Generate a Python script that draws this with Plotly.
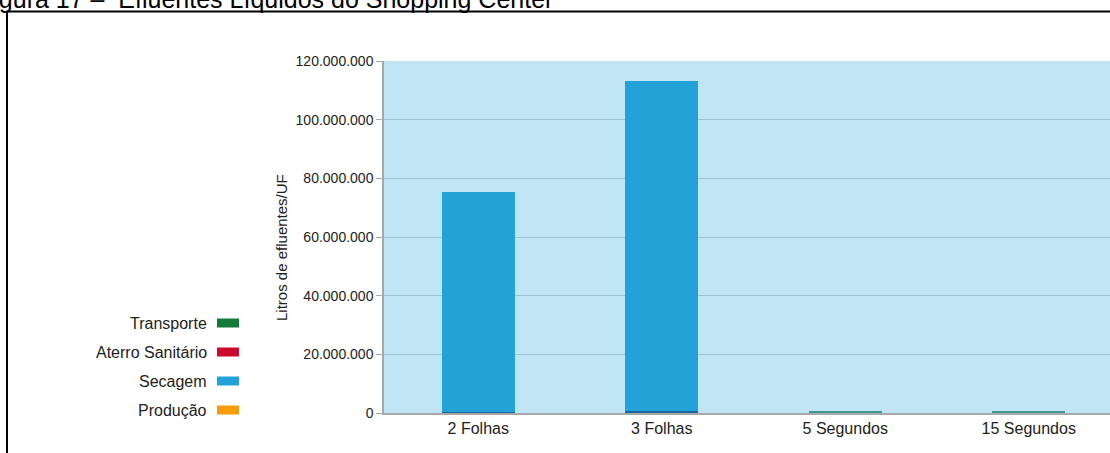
import plotly.graph_objects as go

# Categories and stacked series (litres of effluent per functional unit)
categorias = ["2 Folhas", "3 Folhas", "5 Segundos", "15 Segundos"]
producao = [450000, 600000, 0, 0]
secagem = [74900000, 112500000, 0, 0]
aterro = [0, 0, 0, 0]
transporte = [0, 0, 450000, 450000]

serie_nomes = ["Transporte", "Aterro Sanitário", "Secagem", "Produção"]
serie_cores = ["#137a3c", "#cc0a2f", "#22a2d6", "#f59d0c"]

y_ticks = [0, 20000000, 40000000, 60000000, 80000000, 100000000, 120000000]
y_tick_text = ["0", "20.000.000", "40.000.000", "60.000.000", "80.000.000",
               "100.000.000", "120.000.000"]

titulo = "Figura 17 \u2013  Efluentes Líquidos do Shopping Center"
y_titulo = "Litros de efluentes/UF"

FONTE = "Arial, Liberation Sans, sans-serif"

W, H = 1110, 453
L, T, B = 384, 61, 40
PW, PH = W - L, H - T - B
BANDA = 183.5  # pixels per category band


def px(x):
    return (x - L) / PW


def py(y):
    return (H - B - y) / PH


fig = go.Figure()
fig.add_bar(x=categorias, y=producao, name="Produção", marker_color="#1a66a3",
            marker_line_width=0, width=0.4, showlegend=False)
fig.add_bar(x=categorias, y=secagem, name="Secagem", marker_color=serie_cores[2],
            marker_line_width=0, width=0.4, showlegend=False)
fig.add_bar(x=categorias, y=aterro, name="Aterro Sanitário", marker_color=serie_cores[1],
            marker_line_width=0, width=0.4, showlegend=False)
fig.add_bar(x=categorias, y=transporte, name="Transporte", marker_color="#3f9a8e",
            marker_line_width=0, width=0.4, showlegend=False)

shapes = []
annotations = []

# Outer frame
shapes.append(dict(type="rect", xref="paper", yref="paper",
                   x0=px(7), x1=px(1125), y0=py(470), y1=py(11.5),
                   line=dict(color="#000000", width=2), fillcolor="rgba(0,0,0,0)",
                   layer="above"))

# Manual legend: right-aligned labels with swatches on the right
leg_y = [323, 352, 381, 410]
for nome, cor, yy in zip(serie_nomes, serie_cores, leg_y):
    annotations.append(dict(xref="paper", yref="paper", x=px(209), y=py(yy),
                            xanchor="right", yanchor="middle", showarrow=False,
                            text=nome, font=dict(family=FONTE, size=16, color="#222222")))
    shapes.append(dict(type="rect", xref="paper", yref="paper",
                       x0=px(217), x1=px(239), y0=py(yy + 4.5), y1=py(yy - 4.5),
                       line=dict(width=0), fillcolor=cor))

# Y-axis title
annotations.append(dict(xref="paper", yref="paper", x=px(281), y=py(248),
                        xanchor="center", yanchor="middle", showarrow=False,
                        textangle=-90, text=y_titulo,
                        font=dict(family=FONTE, size=15, color="#222222")))

# Caption above the frame
annotations.append(dict(xref="paper", yref="paper", x=px(-24), y=py(-1),
                        xanchor="left", yanchor="middle", showarrow=False,
                        text=titulo, font=dict(family=FONTE, size=25, color="#000000")))

x0 = -0.5 - 2.5 / BANDA
fig.update_layout(
    width=W, height=H,
    margin=dict(l=L, r=0, t=T, b=B, pad=0),
    barmode="stack",
    plot_bgcolor="#c0e5f5",
    paper_bgcolor="#ffffff",
    shapes=shapes,
    annotations=annotations,
    showlegend=False,
    xaxis=dict(range=[x0, x0 + PW / BANDA], showgrid=False, showline=True,
               linecolor="#a8a8a8", linewidth=1.5, ticks="", fixedrange=True,
               tickfont=dict(family=FONTE, size=16, color="#222222")),
    yaxis=dict(range=[0, 120000000], tickvals=y_ticks, ticktext=y_tick_text,
               showgrid=True, gridcolor="#9ec3d3", gridwidth=1.2,
               showline=True, linecolor="#a8a8a8", linewidth=1.5,
               ticks="outside", ticklen=6, tickcolor="#a8a8a8", zeroline=False,
               tickfont=dict(family=FONTE, size=14, color="#222222")),
    font=dict(family=FONTE),
)

fig.write_html("out.html")
